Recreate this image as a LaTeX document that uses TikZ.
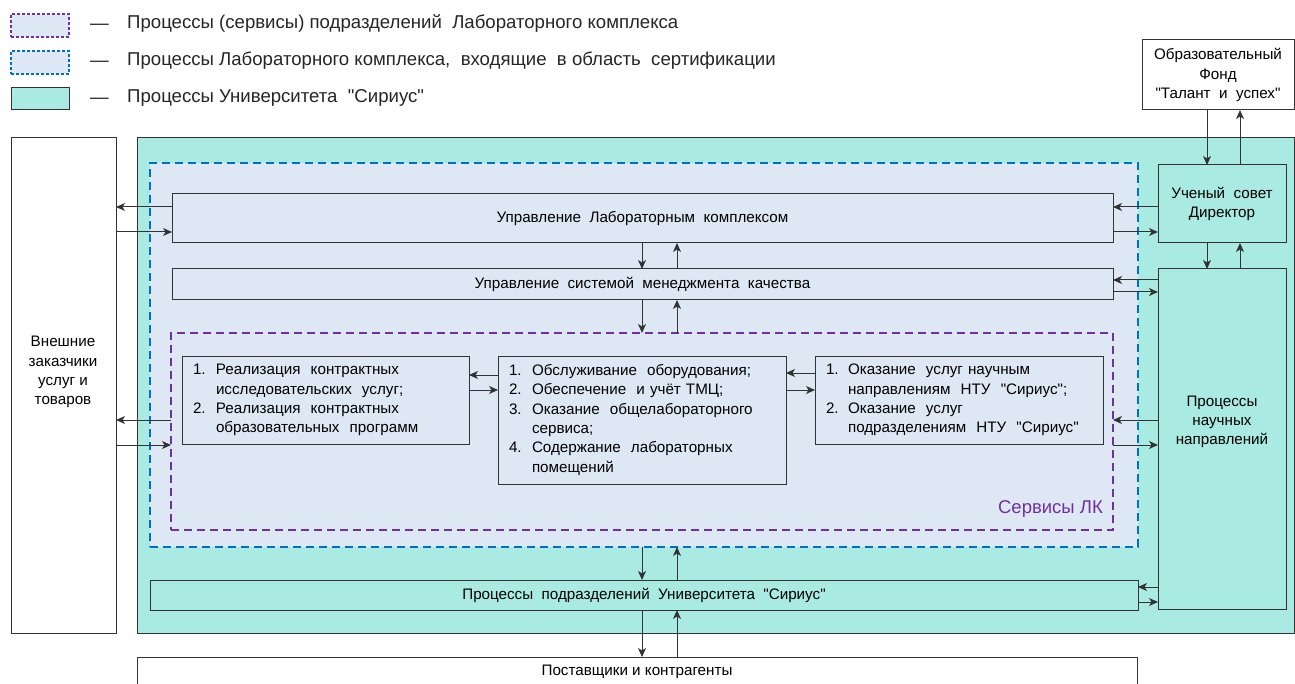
\documentclass[tikz,border=0pt]{standalone}
\usepackage{fontspec}
\setmainfont{Liberation Sans}[Ligatures=TeXOff]
\usetikzlibrary{arrows.meta}
\definecolor{lb}{HTML}{DEE8F4}
\definecolor{tealf}{HTML}{A9EBE2}
\definecolor{pur}{HTML}{7030A0}
\definecolor{blu}{HTML}{0070C0}
\definecolor{bd}{HTML}{333333}
\newcommand\bodyfont{\fontsize{15.2}{19.3}\selectfont}
\newcommand\legfont{\fontsize{18.6}{22}\selectfont}
\begin{document}
\begin{tikzpicture}[x=1pt,y=-1pt,
  box/.style={draw=bd, line width=1pt, inner sep=0pt, outer sep=0pt, align=center, font=\bodyfont, anchor=north west},
  listbox/.style={box, align=left, inner xsep=11pt, inner ysep=0pt},
  pdash/.style={draw=pur, line width=2pt, dash pattern=on 8pt off 5pt, fill=lb, inner sep=0pt, outer sep=0pt, anchor=north west},
  bdash/.style={draw=blu, line width=2pt, dash pattern=on 8pt off 5pt, fill=lb, inner sep=0pt, outer sep=0pt, anchor=north west},
  leg/.style={anchor=west, inner sep=0pt, font=\legfont, text=black!85},
  lbl/.style={inner sep=0pt, align=center, font=\bodyfont},
  arr/.style={draw=bd, line width=1pt, -{Stealth[length=9pt,width=8pt,inset=2.5pt]}}
]
\useasboundingbox (0,0) rectangle (1295,684);
\fill[white] (0,0) rectangle (1295,684);

% legend
\node[pdash, line width=1.2pt, dash pattern=on 3pt off 2pt, minimum width=58pt, minimum height=23pt] (lg1) at (11,14) {};
\node[bdash, line width=1.2pt, dash pattern=on 3pt off 2pt, minimum width=58pt, minimum height=23pt] (lg2) at (11,51) {};
\node[box, fill=tealf, minimum width=58pt, minimum height=22pt] (lg3) at (11,88) {};
\node[leg] (d1) at (90,27) {—};
\node[leg] (d2) at (90,64) {—};
\node[leg] (d3) at (90,101) {—};
\node[leg] (t1) at (127,24) {Процессы (сервисы) подразделений\ \ Лабораторного комплекса};
\node[leg] (t2) at (127,61) {Процессы Лабораторного комплекса,\ \ входящие\ \ в область\ \ сертификации};
\node[leg] (t3) at (127,98) {Процессы Университета\ \ "Сириус"};

% main frames
\node[box, fill=white, minimum width=105pt, minimum height=495pt] (ext) at (11,138) {};
\node[lbl] (extt) at (63,372) {Внешние\\заказчики\\услуг и\\товаров};
\node[box, fill=tealf, minimum width=1157pt, minimum height=495pt] (uni) at (137,138) {};
\node[bdash, minimum width=988pt, minimum height=384pt] (blk) at (150,163) {};
\node[box, fill=lb, minimum width=941pt, minimum height=49pt] (ulk) at (172,194) {Управление\ \ Лабораторным\ \ комплексом};
\node[box, fill=lb, minimum width=941pt, minimum height=31pt] (smk) at (172,269) {Управление\ \ системой\ \ менеджмента\ \ качества};
\node[pdash, minimum width=942pt, minimum height=197pt] (svc) at (171,333) {};
\node[anchor=east, inner sep=0pt, text=pur, font=\fontsize{18.5}{20}\selectfont] (svcl) at (1103,509) {Сервисы ЛК};

\node[listbox, fill=lb, text width=265pt, minimum height=88pt] (b1) at (182,356) {%
\begin{tabular}{@{}p{23pt}@{}l@{}}
1. & Реализация\ \ контрактных\\
 & исследовательских\ \ услуг;\\
2. & Реализация\ \ контрактных\\
 & образовательных\ \ программ
\end{tabular}};
\node[listbox, fill=lb, text width=266pt, minimum height=128pt] (b2) at (498,356) {%
\begin{tabular}{@{}p{23pt}@{}l@{}}
1. & Обслуживание\ \ оборудования;\\
2. & Обеспечение\ \ и учёт ТМЦ;\\
3. & Оказание\ \ общелабораторного\\
 & сервиса;\\
4. & Содержание\ \ лабораторных\\
 & помещений
\end{tabular}};
\node[listbox, fill=lb, text width=266pt, minimum height=88pt] (b3) at (815,356) {%
\begin{tabular}{@{}p{22pt}@{}l@{}}
1. & Оказание\ \ услуг научным\\
 & направлениям\ \ НТУ\ \ "Сириус";\\
2. & Оказание\ \ услуг\\
 & подразделениям\ \ НТУ\ \ "Сириус"
\end{tabular}};

\node[box, fill=tealf, minimum width=988pt, minimum height=30pt] (ppu) at (150,580) {Процессы\ \ подразделений\ \ Университета\ \ "Сириус"};
\node[box, fill=white, minimum width=1000pt, minimum height=30pt] (post) at (137,657) {Поставщики и контрагенты};

\node[box, fill=white, minimum width=152pt, minimum height=70pt] (fond) at (1142,40) {Образовательный\\Фонд\\"Талант\ \ и\ \ успех"};
\node[box, fill=tealf, minimum width=128pt, minimum height=78pt] (council) at (1158,165) {Ученый\ \ совет\\Директор};
\node[box, fill=tealf, minimum width=128pt, minimum height=340pt] (pnn) at (1158,269) {};
\node[lbl] (pnnt) at (1222,422) {Процессы\\научных\\направлений};

% arrows: external customers
\draw[arr] (ulk.west|-0,207) -- (ext.east|-0,207);
\draw[arr] (ext.east|-0,232) -- (ulk.west|-0,232);
\draw[arr] (svc.west|-0,420) -- (ext.east|-0,420);
\draw[arr] (ext.east|-0,445) -- (svc.west|-0,445);
% arrows: council / scientific directions
\draw[arr] (council.west|-0,207) -- (ulk.east|-0,207);
\draw[arr] (ulk.east|-0,232) -- (council.west|-0,232);
\draw[arr] (pnn.west|-0,280) -- (smk.east|-0,280);
\draw[arr] (smk.east|-0,292) -- (pnn.west|-0,292);
\draw[arr] (pnn.west|-0,420) -- (svc.east|-0,420);
\draw[arr] (svc.east|-0,445) -- (pnn.west|-0,445);
\draw[arr] (pnn.west|-0,587) -- (ppu.east|-0,587);
\draw[arr] (ppu.east|-0,602) -- (pnn.west|-0,602);
\draw[arr] (fond.south-|1207,0) -- (council.north-|1207,0);
\draw[arr] (council.north-|1240,0) -- (fond.south-|1240,0);
\draw[arr] (council.south-|1207,0) -- (pnn.north-|1207,0);
\draw[arr] (pnn.north-|1240,0) -- (council.south-|1240,0);
% vertical chain
\draw[arr] (ulk.south-|642,0) -- (smk.north-|642,0);
\draw[arr] (smk.north-|677,0) -- (ulk.south-|677,0);
\draw[arr] (smk.south-|642,0) -- (svc.north-|642,0);
\draw[arr] (svc.north-|677,0) -- (smk.south-|677,0);
\draw[arr] (blk.south-|642,0) -- (ppu.north-|642,0);
\draw[arr] (ppu.north-|677,0) -- (blk.south-|677,0);
\draw[arr] (ppu.south-|642,0) -- (post.north-|642,0);
\draw[arr] (post.north-|677,0) -- (ppu.south-|677,0);
% inner services
\draw[arr] (b2.west|-0,375) -- (b1.east|-0,375);
\draw[arr] (b1.east|-0,390) -- (b2.west|-0,390);
\draw[arr] (b3.west|-0,373) -- (b2.east|-0,373);
\draw[arr] (b2.east|-0,390) -- (b3.west|-0,390);
\end{tikzpicture}
\end{document}
